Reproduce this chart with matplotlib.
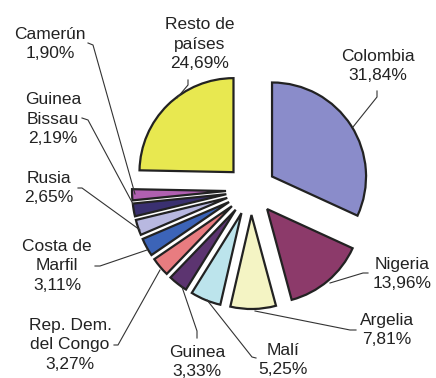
import matplotlib.pyplot as plt

plt.rcParams['font.family'] = ['Liberation Sans', 'DejaVu Sans']

countries = ["Colombia", "Nigeria", "Argelia", "Malí", "Guinea",
             "Rep. Dem.\ndel Congo", "Costa de\nMarfil", "Rusia",
             "Guinea\nBissau", "Camerún", "Resto de\npaíses"]
shares = [31.84, 13.96, 7.81, 5.25, 3.33, 3.27, 3.11, 2.65, 2.19, 1.90, 24.69]
colors = ["#8a8cca", "#8c3a6a", "#f4f4c4", "#bce4ec", "#5c3470", "#e87c80",
          "#3c64b8", "#b8b8e0", "#3a3070", "#b060b0", "#e8e850"]

# label text position and leader line path (pixel coords, y down)
label_pos = [(378, 66), (402, 274), (387, 330), (283, 360), (197, 362),
             (70, 345), (57, 266), (49, 188), (53, 119), (50, 44), (200, 44)]
leaders = [
    [(377, 91), (377, 97), (353, 127)],
    [(368, 273), (363, 273), (330, 283)],
    [(356, 330), (350, 330), (255, 311)],
    [(256, 358), (252, 357), (207, 300)],
    [(197, 338), (197, 331), (182, 287)],
    [(114, 345), (118, 345), (160, 270)],
    [(95, 266), (100, 266), (147, 250)],
    [(78, 188), (82, 188), (140, 230)],
    [(82, 118), (88, 120), (133, 204)],
    [(88, 43), (93, 45), (135, 194)],
    [(188, 80), (188, 85), (177, 98)],
]

W, H = 436, 378
fig = plt.figure(figsize=(W / 100, H / 100), dpi=100)
ax = fig.add_axes([0, 0, 1, 1])

# explode is an absolute offset here since the axes work in pixels
ax.pie(shares, colors=colors, startangle=90, counterclock=False,
       radius=94, center=(251, H - 190), explode=[25] * len(shares),
       wedgeprops=dict(edgecolor="#222222", linewidth=1.6), frame=True)
ax.set_xlim(0, W)
ax.set_ylim(0, H)
ax.set_aspect('equal')
ax.axis('off')

for name, val, (x, y), path in zip(countries, shares, label_pos, leaders):
    txt = "{}\n{}%".format(name, "{:.2f}".format(val).replace(".", ","))
    ax.text(x, H - y, txt, ha='center', va='center', fontsize=12.5,
            color="#222222", linespacing=1.35)
    ax.plot([p[0] for p in path], [H - p[1] for p in path],
            color="#333333", linewidth=0.8)

fig.savefig("out.png", dpi=100)
